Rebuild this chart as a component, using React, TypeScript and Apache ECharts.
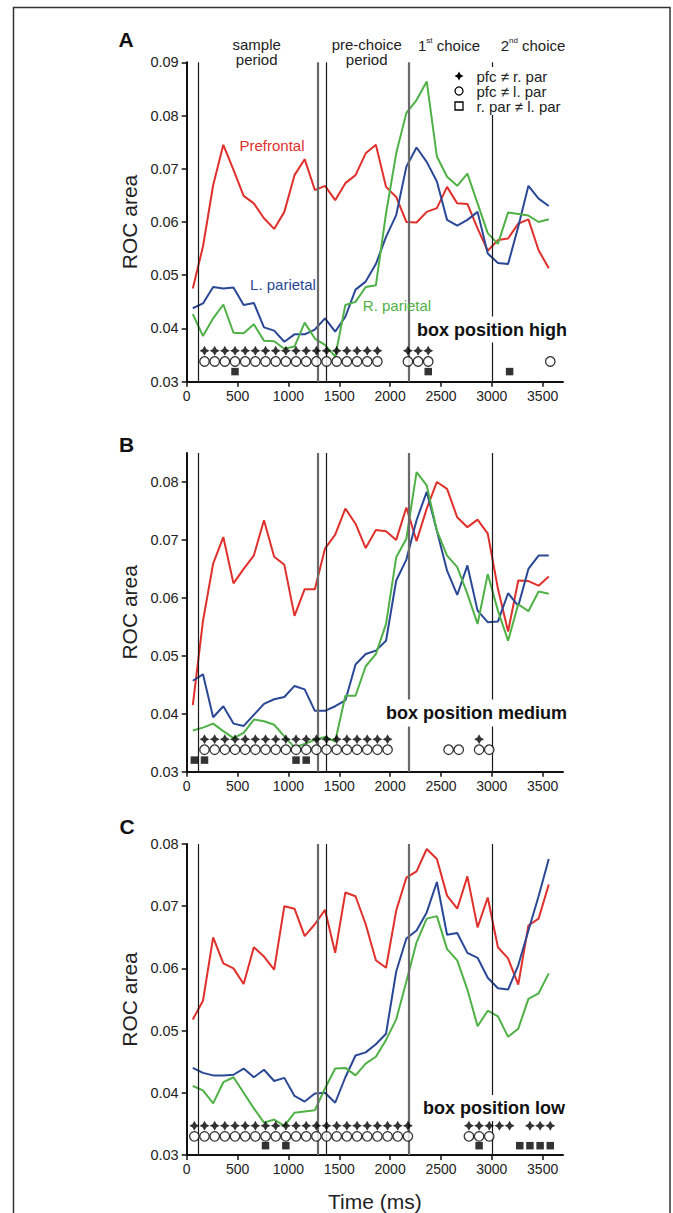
import React, { useEffect, useRef } from 'react';
import * as echarts from 'echarts';

const FONT = '"Liberation Sans", Arial, Helvetica, sans-serif';

// ---------- data ----------
const timeMs = [60, 160, 260, 360, 460, 560, 660, 760, 860, 960, 1060, 1160, 1260, 1360, 1460, 1560, 1660, 1760, 1860, 1960, 2060, 2160, 2260, 2360, 2460, 2560, 2660, 2760, 2860, 2960, 3060, 3160, 3260, 3360, 3460, 3560];

const highPrefrontal = [0.0475, 0.0554, 0.0669, 0.0745, 0.0698, 0.0649, 0.0635, 0.0607, 0.0587, 0.0619, 0.0688, 0.0718, 0.0660, 0.0668, 0.0641, 0.0673, 0.0688, 0.0729, 0.0745, 0.0666, 0.0647, 0.0600, 0.0599, 0.0619, 0.0626, 0.0666, 0.0635, 0.0634, 0.0588, 0.0546, 0.0566, 0.0569, 0.0597, 0.0605, 0.0547, 0.0513];
const highLParietal = [0.0438, 0.0447, 0.0478, 0.0475, 0.0477, 0.0444, 0.0448, 0.0402, 0.0396, 0.0375, 0.0389, 0.0389, 0.0398, 0.0419, 0.0394, 0.0422, 0.0473, 0.0488, 0.0521, 0.0572, 0.0613, 0.0704, 0.0740, 0.0713, 0.0676, 0.0604, 0.0593, 0.0604, 0.0619, 0.0541, 0.0523, 0.0521, 0.0591, 0.0668, 0.0644, 0.0630];
const highRParietal = [0.0427, 0.0386, 0.0419, 0.0445, 0.0392, 0.0391, 0.0408, 0.0377, 0.0376, 0.0362, 0.0366, 0.0411, 0.0381, 0.0369, 0.0347, 0.0444, 0.0450, 0.0478, 0.0481, 0.0616, 0.0729, 0.0805, 0.0829, 0.0864, 0.0723, 0.0685, 0.0668, 0.0691, 0.0635, 0.0579, 0.0559, 0.0618, 0.0615, 0.0612, 0.0600, 0.0605];

const mediumPrefrontal = [0.0415, 0.0560, 0.0659, 0.0705, 0.0625, 0.0650, 0.0673, 0.0734, 0.0671, 0.0657, 0.0569, 0.0615, 0.0615, 0.0685, 0.0709, 0.0754, 0.0728, 0.0686, 0.0717, 0.0715, 0.0700, 0.0756, 0.0698, 0.0754, 0.0800, 0.0788, 0.0739, 0.0722, 0.0735, 0.0711, 0.0616, 0.0542, 0.0630, 0.0629, 0.0621, 0.0637];
const mediumLParietal = [0.0457, 0.0468, 0.0394, 0.0413, 0.0383, 0.0379, 0.0398, 0.0417, 0.0425, 0.0429, 0.0448, 0.0442, 0.0405, 0.0405, 0.0413, 0.0423, 0.0485, 0.0503, 0.0509, 0.0526, 0.0630, 0.0666, 0.0734, 0.0783, 0.0716, 0.0647, 0.0605, 0.0656, 0.0578, 0.0558, 0.0559, 0.0608, 0.0586, 0.0650, 0.0673, 0.0673];
const mediumRParietal = [0.0371, 0.0376, 0.0383, 0.0370, 0.0358, 0.0367, 0.0390, 0.0387, 0.0381, 0.0361, 0.0342, 0.0348, 0.0355, 0.0360, 0.0352, 0.0431, 0.0431, 0.0482, 0.0503, 0.0555, 0.0670, 0.0702, 0.0817, 0.0794, 0.0716, 0.0673, 0.0653, 0.0607, 0.0555, 0.0641, 0.0578, 0.0526, 0.0589, 0.0577, 0.0611, 0.0607];

const lowPrefrontal = [0.0518, 0.0548, 0.0650, 0.0608, 0.0600, 0.0575, 0.0634, 0.0619, 0.0598, 0.0700, 0.0696, 0.0652, 0.0671, 0.0694, 0.0625, 0.0722, 0.0716, 0.0671, 0.0613, 0.0601, 0.0693, 0.0746, 0.0756, 0.0792, 0.0776, 0.0717, 0.0696, 0.0748, 0.0666, 0.0714, 0.0634, 0.0616, 0.0574, 0.0669, 0.0680, 0.0735];
const lowLParietal = [0.0440, 0.0432, 0.0428, 0.0428, 0.0429, 0.0439, 0.0425, 0.0437, 0.0419, 0.0424, 0.0395, 0.0386, 0.0399, 0.0400, 0.0384, 0.0425, 0.0460, 0.0465, 0.0478, 0.0495, 0.0595, 0.0648, 0.0661, 0.0690, 0.0739, 0.0654, 0.0657, 0.0625, 0.0617, 0.0585, 0.0568, 0.0566, 0.0605, 0.0661, 0.0716, 0.0776];
const lowRParietal = [0.0411, 0.0404, 0.0383, 0.0417, 0.0425, 0.0400, 0.0375, 0.0352, 0.0357, 0.0347, 0.0368, 0.0370, 0.0372, 0.0407, 0.0439, 0.0440, 0.0428, 0.0447, 0.0458, 0.0485, 0.0518, 0.0579, 0.0642, 0.0680, 0.0684, 0.0631, 0.0613, 0.0566, 0.0507, 0.0532, 0.0523, 0.0490, 0.0503, 0.0551, 0.0560, 0.0592];

// significance markers (time in ms)
const highPfcRpar = [175, 275, 375, 475, 575, 675, 775, 875, 975, 1075, 1175, 1275, 1375, 1475, 1575, 1675, 1775, 1875, 2175, 2275, 2375];
const highPfcLpar = [175, 275, 375, 475, 575, 675, 775, 875, 975, 1075, 1175, 1275, 1375, 1475, 1575, 1675, 1775, 1875, 2175, 2275, 2375, 3575];
const highRparLpar = [475, 2375, 3175];

const mediumPfcRpar = [175, 275, 375, 475, 575, 675, 775, 875, 975, 1075, 1175, 1275, 1375, 1475, 1575, 1675, 1775, 1875, 1975, 2875];
const mediumPfcLpar = [175, 275, 375, 475, 575, 675, 775, 875, 975, 1075, 1175, 1275, 1375, 1475, 1575, 1675, 1775, 1875, 1975, 2575, 2675, 2875, 2975];
const mediumRparLpar = [75, 175, 1075, 1175];

const lowPfcRpar = [75, 175, 275, 375, 475, 575, 675, 775, 875, 975, 1075, 1175, 1275, 1375, 1475, 1575, 1675, 1775, 1875, 1975, 2075, 2175, 2775, 2875, 2975, 3075, 3175, 3375, 3475, 3575];
const lowPfcLpar = [75, 175, 275, 375, 475, 575, 675, 775, 875, 975, 1075, 1175, 1275, 1375, 1475, 1575, 1675, 1775, 1875, 1975, 2075, 2175, 2775, 2875, 2975];
const lowRparLpar = [775, 975, 2875, 3275, 3375, 3475, 3575];

// row levels of the marker rows (ROC area units) per panel
const highRows = [0.0358, 0.0338, 0.0319];
const mediumRows = [0.0356, 0.0338, 0.0320];
const lowRows = [0.0347, 0.0330, 0.0315];

// task event times (ms)
const eventTimes = [110, 1290, 1370, 2180, 3000];

const xTicks = [0, 500, 1000, 1500, 2000, 2500, 3000, 3500];
const yTicksHigh = [0.03, 0.04, 0.05, 0.06, 0.07, 0.08, 0.09];
const yTicksMedium = [0.03, 0.04, 0.05, 0.06, 0.07, 0.08];
const yTicksLow = [0.03, 0.04, 0.05, 0.06, 0.07, 0.08];

// ---------- styling ----------
const RED = '#e0302c';
const BLUE = '#2b4896';
const GREEN = '#4fb146';
const STAR = 'path://M0,-5L1.8,-1.8L5,0L1.8,1.8L0,5L-1.8,1.8L-5,0L-1.8,-1.8Z';

const eventStyles = [
  { color: '#1a1a1a', width: 1.2 },
  { color: '#6a6a6a', width: 2.2 },
  { color: '#1a1a1a', width: 1.2 },
  { color: '#6a6a6a', width: 2.2 },
  { color: '#1a1a1a', width: 1.2 },
];

const grids = [
  { left: 186.7, top: 62.3, width: 376.3, height: 319.4 },
  { left: 186.7, top: 453, width: 376.3, height: 318.7 },
  { left: 186.7, top: 844, width: 376.3, height: 318.7 },
];

const panels = [
  { pf: highPrefrontal, lp: highLParietal, rp: highRParietal, m1: highPfcRpar, m2: highPfcLpar, m3: highRparLpar, rows: highRows, yMax: 0.09, yTicks: yTicksHigh },
  { pf: mediumPrefrontal, lp: mediumLParietal, rp: mediumRParietal, m1: mediumPfcRpar, m2: mediumPfcLpar, m3: mediumRparLpar, rows: mediumRows, yMax: 0.085, yTicks: yTicksMedium },
  { pf: lowPrefrontal, lp: lowLParietal, rp: lowRParietal, m1: lowPfcRpar, m2: lowPfcLpar, m3: lowRparLpar, rows: lowRows, yMax: 0.08, yTicks: yTicksLow },
];

function zip(xs: number[], ys: number[]) {
  return xs.map((x, i) => [x, ys[i]]);
}

function buildOption() {
  const axisLine = { show: true, lineStyle: { color: '#111', width: 2 } };
  const xAxis = panels.map((_, g) => ({
    type: 'value',
    gridIndex: g,
    min: 0,
    max: 3700,
    interval: 500,
    axisLine,
    axisTick: { show: true, inside: false, length: 5, customValues: xTicks, lineStyle: { color: '#111', width: 1.5 } },
    axisLabel: {
      customValues: xTicks,
      formatter: (v: number) => String(Math.round(v)),
      color: '#222',
      fontSize: 14,
      fontFamily: FONT,
      margin: 7,
    },
    splitLine: { show: false },
    name: g === 2 ? 'Time (ms)' : '',
    nameLocation: 'middle',
    nameGap: 36,
    nameTextStyle: { fontSize: 21, color: '#222', fontFamily: FONT },
  }));
  const yAxis = panels.map((p, g) => ({
    type: 'value',
    gridIndex: g,
    min: 0.03,
    max: p.yMax,
    interval: 0.01,
    axisLine,
    axisTick: { show: true, inside: false, length: 5, customValues: p.yTicks, lineStyle: { color: '#111', width: 1.5 } },
    axisLabel: {
      customValues: p.yTicks,
      formatter: (v: number) => v.toFixed(2),
      color: '#222',
      fontSize: 14.5,
      fontFamily: FONT,
      margin: 8,
    },
    splitLine: { show: false },
    name: 'ROC area',
    nameLocation: 'middle',
    nameGap: 47,
    nameTextStyle: { fontSize: 21, color: '#222', fontFamily: FONT },
  }));

  const series: any[] = [];
  panels.forEach((p, g) => {
    series.push({
      type: 'line',
      xAxisIndex: g,
      yAxisIndex: g,
      data: [],
      silent: true,
      z: 1,
      markLine: {
        silent: true,
        symbol: ['none', 'none'],
        label: { show: false },
        data: eventTimes.map((t, i) => ({ xAxis: t, lineStyle: { type: 'solid', ...eventStyles[i] } })),
      },
    });
    const lines = [
      { d: p.pf, c: RED },
      { d: p.lp, c: BLUE },
      { d: p.rp, c: GREEN },
    ];
    lines.forEach((l) => {
      series.push({
        type: 'line',
        xAxisIndex: g,
        yAxisIndex: g,
        data: zip(timeMs, l.d),
        symbol: 'none',
        showSymbol: false,
        lineStyle: { color: l.c, width: 2 },
        itemStyle: { color: l.c },
        silent: true,
        z: 3,
      });
    });
    series.push({
      type: 'scatter', xAxisIndex: g, yAxisIndex: g, silent: true, z: 5, zlevel: 1,
      data: p.m1.map((t) => [t, p.rows[0]]),
      symbol: STAR, symbolSize: 10,
      itemStyle: { color: '#000' },
    });
    series.push({
      type: 'scatter', xAxisIndex: g, yAxisIndex: g, silent: true, z: 5, zlevel: 1,
      data: p.m2.map((t) => [t, p.rows[1]]),
      symbol: 'circle', symbolSize: 9.5,
      itemStyle: { color: '#fff', borderColor: '#000', borderWidth: 1.3 },
    });
    series.push({
      type: 'scatter', xAxisIndex: g, yAxisIndex: g, silent: true, z: 5, zlevel: 1,
      data: p.m3.map((t) => [t, p.rows[2]]),
      symbol: 'rect', symbolSize: 7.5,
      itemStyle: { color: '#000' },
    });
  });

  const txt = (text: string, x: number, y: number, extra: any = {}, align = 'center', z = 50) => ({
    type: 'text',
    x,
    y,
    z,
    silent: true,
    style: {
      text,
      fill: '#222',
      font: `15px ${FONT}`,
      textAlign: align,
      textVerticalAlign: 'middle',
      ...extra,
    },
  });

  const graphic: any[] = [
    { type: 'rect', silent: true, z: 0, shape: { x: 13.5, y: 7.5, width: 656.5, height: 1222 }, style: { fill: 'none', stroke: '#333', lineWidth: 1.5 } },
    // panel letters
    txt('A', 126, 39, { font: `bold 21px ${FONT}`, fill: '#111' }),
    txt('B', 126.5, 444.5, { font: `bold 21px ${FONT}`, fill: '#111' }),
    txt('C', 127, 826.5, { font: `bold 21px ${FONT}`, fill: '#111' }),
    // period headers
    txt('sample\nperiod', 256.7, 51.5, { lineHeight: 15 }),
    txt('pre-choice\nperiod', 366.7, 51.5, { lineHeight: 15 }),
    {
      type: 'text', x: 449, y: 45, z: 50, silent: true,
      style: {
        text: '{n|1}{s|st}{n| choice}',
        textAlign: 'center', textVerticalAlign: 'middle',
        rich: {
          n: { fontSize: 15, fontFamily: FONT, fill: '#222', lineHeight: 17 },
          s: { fontSize: 8, fontFamily: FONT, fill: '#222', lineHeight: 17, verticalAlign: 'top' },
        },
      },
    },
    {
      type: 'text', x: 533, y: 45, z: 50, silent: true,
      style: {
        text: '{n|2}{s|nd}{n| choice}',
        textAlign: 'center', textVerticalAlign: 'middle',
        rich: {
          n: { fontSize: 15, fontFamily: FONT, fill: '#222', lineHeight: 17 },
          s: { fontSize: 8, fontFamily: FONT, fill: '#222', lineHeight: 17, verticalAlign: 'top' },
        },
      },
    },
    // legend box
    { type: 'rect', silent: true, z: 40, shape: { x: 450, y: 67, width: 118, height: 48 }, style: { fill: '#fff' } },
    {
      type: 'polygon', silent: true, z: 50, x: 459, y: 76,
      shape: { points: [[0, -4.5], [1.6, -1.6], [4.5, 0], [1.6, 1.6], [0, 4.5], [-1.6, 1.6], [-4.5, 0], [-1.6, -1.6]] },
      style: { fill: '#000' },
    },
    { type: 'circle', silent: true, z: 50, shape: { cx: 459, cy: 91, r: 4 }, style: { fill: '#fff', stroke: '#000', lineWidth: 1.3 } },
    { type: 'rect', silent: true, z: 50, shape: { x: 455, y: 102, width: 8, height: 8 }, style: { fill: '#fff', stroke: '#000', lineWidth: 1.3 } },
    txt('pfc \u2260 r. par', 476.5, 76, {}, 'left'),
    txt('pfc \u2260 l. par', 476.5, 91, {}, 'left'),
    txt('r. par \u2260 l. par', 476.5, 106, {}, 'left'),
    // series labels
    txt('Prefrontal', 272, 145, { fill: RED }),
    txt('L. parietal', 283, 284, { fill: BLUE }),
    txt('R. parietal', 397, 305, { fill: GREEN }),
    // condition labels
    txt('box position high', 415, 329.5, { font: `bold 18px ${FONT}`, fill: '#111', backgroundColor: '#fff', padding: [5, 2, 3, 2] }, 'left'),
    txt('box position medium', 384, 713, { font: `bold 18px ${FONT}`, fill: '#111', backgroundColor: '#fff', padding: [6, 2, 3, 2] }, 'left'),
    txt('box position low', 421, 1108, { font: `bold 18px ${FONT}`, fill: '#111', backgroundColor: '#fff', padding: [6, 2, 2, 2] }, 'left'),
  ];

  return {
    animation: false,
    backgroundColor: '#fff',
    grid: grids.map((g) => ({ ...g, containLabel: false })),
    xAxis,
    yAxis,
    series,
    graphic,
  };
}

export default function App() {
  const ref = useRef<HTMLDivElement>(null);
  useEffect(() => {
    if (!ref.current) return;
    const chart = echarts.init(ref.current, null, { renderer: 'svg' });
    chart.setOption(buildOption() as any);
    return () => chart.dispose();
  }, []);
  return (
    <div
      ref={ref}
      style={{ position: 'absolute', left: 0, top: 0, width: 673, height: 1213, background: '#fff' }}
    />
  );
}
